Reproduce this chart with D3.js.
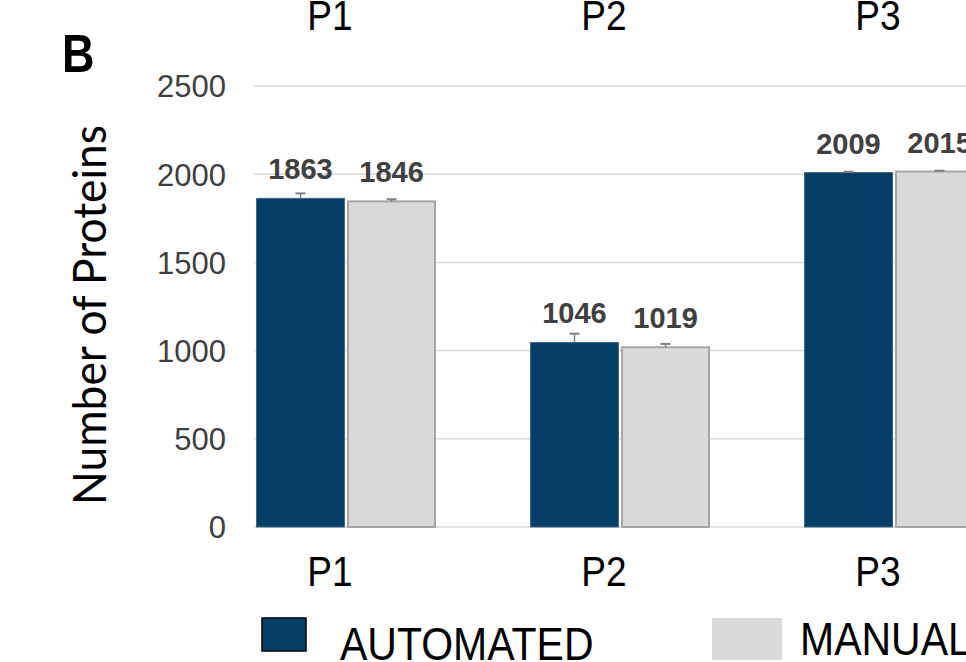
<!DOCTYPE html>
<html>
<head>
<meta charset="utf-8">
<script src="https://cdn.jsdelivr.net/npm/d3@7"></script>
<style>
  html, body { margin: 0; padding: 0; background: #ffffff; }
  svg { display: block; }
</style>
</head>
<body>
<svg id="chart" width="966" height="662"></svg>
<script>
// Protein identifications per sample, automated vs manual preparation
const categories = ["P1", "P2", "P3"];
const seriesNames = ["AUTOMATED", "MANUAL"];
const automatedValues = [1863, 1046, 2009];
const manualValues = [1846, 1019, 2015];
const automatedErrors = [28, 50, 5];
const manualErrors = [12, 19, 5];
const yTicks = [0, 500, 1000, 1500, 2000, 2500];

const colors = { AUTOMATED: "#053f66", MANUAL: "#dadada" };
const strokes = { AUTOMATED: "#3f6683", MANUAL: "#a6a6a6" };

const rows = categories.map((c, i) => ({
  category: c,
  bars: [
    { series: "AUTOMATED", value: automatedValues[i], err: automatedErrors[i] },
    { series: "MANUAL", value: manualValues[i], err: manualErrors[i] }
  ]
}));

const svg = d3.select("#chart");

const y = d3.scaleLinear().domain([0, 2500]).range([527, 86]);
const x = d3.scaleBand().domain(categories).range([209, 1031])
  .paddingInner(0.343).paddingOuter(0.1715);
const xs = d3.scaleBand().domain(seriesNames).range([0, x.bandwidth()]).paddingInner(0.0225);

// gridlines
svg.append("g").selectAll("line").data(yTicks).join("line")
  .attr("x1", 254).attr("x2", 966)
  .attr("y1", d => y(d)).attr("y2", d => y(d))
  .attr("stroke", "#d9d9d9").attr("stroke-width", 1.5);

// y axis tick labels
const yAxis = d3.axisLeft(y).tickValues(yTicks).tickFormat(d3.format("d")).tickSize(0).tickPadding(0);
const yg = svg.append("g").attr("transform", "translate(226,0)").call(yAxis);
yg.select(".domain").remove();
yg.selectAll("text")
  .attr("font-family", "Liberation Sans, Arial, sans-serif")
  .attr("font-size", 31).attr("fill", "#3f3f3f").attr("dy", "0.35em");

// bars
const groups = svg.append("g").selectAll("g").data(rows).join("g")
  .attr("transform", d => `translate(${x(d.category)},0)`);

groups.selectAll("rect").data(d => d.bars).join("rect")
  .attr("x", d => xs(d.series) + (d.series === "MANUAL" ? 1 : 0.5))
  .attr("width", d => xs.bandwidth() - (d.series === "MANUAL" ? 2 : 1))
  .attr("y", d => y(d.value))
  .attr("height", d => y(0) - y(d.value))
  .attr("fill", d => colors[d.series])
  .attr("stroke", d => strokes[d.series])
  .attr("stroke-width", d => d.series === "MANUAL" ? 2 : 1);

// error bars (upper half visible above the bar)
const eb = groups.selectAll("g.err").data(d => d.bars).join("g").attr("class", "err");
eb.append("line")
  .attr("x1", d => xs(d.series) + xs.bandwidth() / 2)
  .attr("x2", d => xs(d.series) + xs.bandwidth() / 2)
  .attr("y1", d => y(d.value))
  .attr("y2", d => y(d.value + d.err))
  .attr("stroke", "#7f7f7f").attr("stroke-width", 1.5);
eb.append("line")
  .attr("x1", d => xs(d.series) + xs.bandwidth() / 2 - 5)
  .attr("x2", d => xs(d.series) + xs.bandwidth() / 2 + 5)
  .attr("y1", d => y(d.value + d.err))
  .attr("y2", d => y(d.value + d.err))
  .attr("stroke", "#7f7f7f").attr("stroke-width", 2);

// value labels
groups.selectAll("text.val").data(d => d.bars).join("text").attr("class", "val")
  .attr("x", d => xs(d.series) + xs.bandwidth() / 2)
  .attr("y", d => y(d.value) - 19)
  .attr("text-anchor", "middle")
  .attr("font-family", "Liberation Sans, Arial, sans-serif")
  .attr("font-weight", "bold").attr("font-size", 29).attr("fill", "#404040")
  .text(d => d.value);

// category labels, above and below the plot
function catLabels(baseline) {
  svg.append("g").selectAll("text").data(categories).join("text")
    .attr("transform", d => `translate(${x(d) + x.bandwidth() / 2 - 16},${baseline}) scale(1,1.13)`)
    .attr("text-anchor", "middle")
    .attr("font-family", "Liberation Sans, Arial, sans-serif")
    .attr("font-size", 37).attr("fill", "#000")
    .text(d => d);
}
catLabels(30);
catLabels(586);

// panel letter
svg.append("text")
  .attr("transform", "translate(62,72) scale(1,1.2)")
  .attr("font-family", "Liberation Sans, Arial, sans-serif")
  .attr("font-weight", "bold").attr("font-size", 45).attr("fill", "#000")
  .text("B");

// y axis title
svg.append("text")
  .attr("transform", "translate(106,315) rotate(-90)")
  .attr("text-anchor", "middle")
  .attr("font-family", "Lato, sans-serif")
  .attr("font-size", 46).attr("fill", "#000")
  .attr("textLength", 380).attr("lengthAdjust", "spacingAndGlyphs")
  .text("Number of Proteins");

// legend
const legendPos = [
  { series: "AUTOMATED", sx: 262, sy: 618, sw: 44, sh: 33, tx: 340, ty: 660, border: "#000" },
  { series: "MANUAL", sx: 712, sy: 618, sw: 70, sh: 42, tx: 800, ty: 655, border: "none" }
];
const lg = svg.append("g").selectAll("g").data(legendPos).join("g");
lg.append("rect")
  .attr("x", d => d.sx).attr("y", d => d.sy)
  .attr("width", d => d.sw).attr("height", d => d.sh)
  .attr("fill", d => colors[d.series])
  .attr("stroke", d => d.border).attr("stroke-width", 1.5);
lg.append("text")
  .attr("transform", d => `translate(${d.tx},${d.ty}) scale(1,1.11)`)
  .attr("font-family", "Liberation Sans, Arial, sans-serif")
  .attr("font-size", 41).attr("fill", "#000")
  .text(d => d.series);
</script>
</body>
</html>
